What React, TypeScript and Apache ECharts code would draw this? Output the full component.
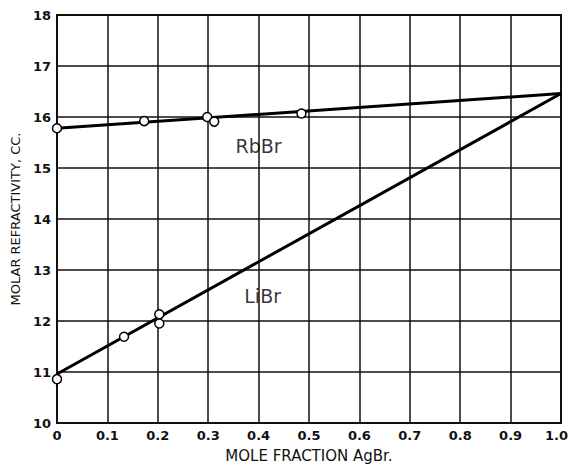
import React, { useEffect, useRef } from "react";
import * as echarts from "echarts";

const xTicks = [0, 0.1, 0.2, 0.3, 0.4, 0.5, 0.6, 0.7, 0.8, 0.9, 1.0];
const rbbrLine: [number, number][] = [[0, 15.78], [1.0, 16.46]];
const libLine: [number, number][] = [[0, 10.96], [1.0, 16.46]];
const rbbrPoints: [number, number][] = [[0, 15.78], [0.173, 15.92], [0.298, 16.0], [0.312, 15.91], [0.485, 16.07]];
const libPoints: [number, number][] = [[0, 10.86], [0.133, 11.69], [0.203, 12.13], [0.203, 11.95]];
const labels = [
  { text: "RbBr", x: 0.4, y: 15.43 },
  { text: "LiBr", x: 0.408, y: 12.49 },
];

export default function App() {
  const ref = useRef<HTMLDivElement>(null);
  useEffect(() => {
    const chart = echarts.init(ref.current!, null, { renderer: "svg" });
    const font = "DejaVu Sans";
    const tickStyle = { fontFamily: font, fontSize: 13, fontWeight: "bold" as const, color: "#111" };
    chart.setOption({
      animation: false,
      backgroundColor: "#fff",
      grid: {
        left: 57, right: 10, top: 15, bottom: 42,
        containLabel: false, outerBoundsMode: "none",
        show: true, borderColor: "#111", borderWidth: 2,
      },
      xAxis: {
        type: "value", min: 0, max: 1, interval: 0.1,
        name: "MOLE FRACTION AgBr.",
        nameLocation: "middle", nameGap: 25,
        nameTextStyle: { fontFamily: font, fontSize: 15, color: "#111" },
        axisLine: { show: true, lineStyle: { color: "#111", width: 2 } },
        axisTick: { show: false },
        axisLabel: {
          ...tickStyle, margin: 6,
          formatter: (v: number) => (v === 0 ? "0" : v === 1 ? "{r|1.0}" : v.toFixed(1)),
          rich: { r: { ...tickStyle, padding: [0, 9, 0, 0] } },
        },
        splitLine: { show: true, lineStyle: { color: "#111", width: 1.5 } },
      },
      yAxis: {
        type: "value", min: 10, max: 18, interval: 1,
        name: "MOLAR REFRACTIVITY, CC.",
        nameLocation: "middle", nameGap: 32, nameRotate: 90,
        nameTextStyle: { fontFamily: font, fontSize: 13, color: "#111" },
        axisLine: { show: true, lineStyle: { color: "#111", width: 2 } },
        axisTick: { show: false },
        axisLabel: { ...tickStyle, margin: 6 },
        splitLine: { show: true, lineStyle: { color: "#111", width: 1.5 } },
      },
      series: [
        { type: "line", data: rbbrLine, symbol: "none", lineStyle: { color: "#000", width: 3 }, z: 3 },
        { type: "line", data: libLine, symbol: "none", lineStyle: { color: "#000", width: 3 }, z: 3 },
        {
          type: "scatter", data: [...rbbrPoints, ...libPoints], symbol: "circle", symbolSize: 9,
          itemStyle: { color: "#fff", borderColor: "#000", borderWidth: 1.5, opacity: 1 }, z: 5,
        },
        {
          type: "scatter", data: labels.map((l) => [l.x, l.y, l.text]), symbolSize: 1,
          itemStyle: { color: "rgba(0,0,0,0)" },
          label: {
            show: true, position: "inside", formatter: (p: any) => p.data[2],
            fontFamily: font, fontSize: 19, color: "#000", textBorderWidth: 0,
          },
          silent: true, z: 6,
        },
      ],
    });
    return () => chart.dispose();
  }, []);
  return <div ref={ref} style={{ width: 571, height: 465, position: "absolute", left: 0, top: 0 }} />;
}
